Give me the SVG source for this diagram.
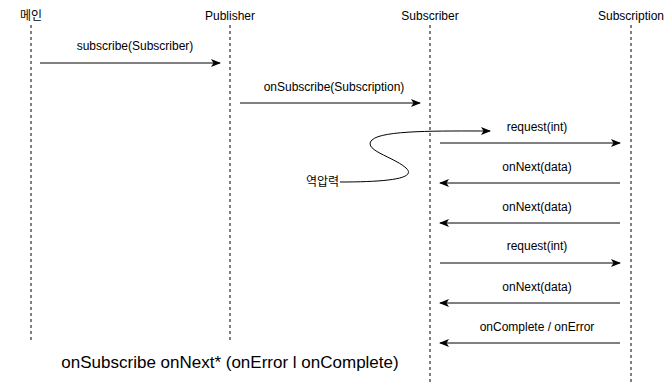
<svg xmlns="http://www.w3.org/2000/svg" width="664" height="385" viewBox="0 0 664 385">
<style>
.t{font-family:"Liberation Sans",Arial,sans-serif;font-size:12px;fill:#000;text-anchor:middle}
.k{font-family:"Liberation Sans","Noto Sans CJK KR",sans-serif;font-size:12px;fill:#000;text-anchor:middle}
.life{stroke:#000;stroke-width:1;stroke-dasharray:3 3;fill:none}
.msg{stroke:#000;stroke-width:1;fill:none;marker-end:url(#ah)}
</style>
<defs>
<marker id="ah" viewBox="0 0 10 8" refX="9" refY="4" markerWidth="10" markerHeight="8" markerUnits="userSpaceOnUse" orient="auto">
<path d="M0,0 L10,4 L0,8 L2.5,4 Z" fill="#000"/>
</marker>
</defs>
<rect width="664" height="385" fill="#fff"/>
<g id="main"><text class="k" x="31" y="20">메인</text><line class="life" x1="31" y1="25" x2="31" y2="343"/></g>
<g id="publisher"><text class="t" x="230" y="20">Publisher</text><line class="life" x1="230" y1="25" x2="230" y2="343"/></g>
<g id="subscriber"><text class="t" x="430" y="20">Subscriber</text><line class="life" x1="430" y1="25" x2="430" y2="385"/></g>
<g id="subscription"><text class="t" x="631" y="20">Subscription</text><line class="life" x1="631" y1="25" x2="631" y2="385"/></g>
<g id="backpressure"><text class="k" x="339" y="186" style="text-anchor:end">역압력</text></g>
<g id="connectors">
<line class="msg" x1="40" y1="63" x2="220" y2="63"/>
<line class="msg" x1="240" y1="103" x2="420" y2="103"/>
<line class="msg" x1="440" y1="143" x2="620" y2="143"/>
<line class="msg" x1="620" y1="183" x2="440" y2="183"/>
<line class="msg" x1="620" y1="223" x2="440" y2="223"/>
<line class="msg" x1="440" y1="263" x2="620" y2="263"/>
<line class="msg" x1="620" y1="303" x2="440" y2="303"/>
<line class="msg" x1="620" y1="343" x2="440" y2="343"/>
<path class="msg" d="M340,182 C385,182 418,179 406,168 C394,157 362,150 372,140 C382,130 440,131 490,131"/>
</g>
<g id="labels">
<text class="t" x="135" y="50">subscribe(Subscriber)</text>
<text class="t" x="334" y="91">onSubscribe(Subscription)</text>
<text class="t" x="537" y="131">request(int)</text>
<text class="t" x="537" y="171">onNext(data)</text>
<text class="t" x="537" y="211">onNext(data)</text>
<text class="t" x="537" y="250">request(int)</text>
<text class="t" x="537" y="291">onNext(data)</text>
<text class="t" x="537" y="331">onComplete / onError</text>
<text class="t" x="230" y="368" style="font-size:17px">onSubscribe onNext* (onError l onComplete)</text>
</g>
</svg>
